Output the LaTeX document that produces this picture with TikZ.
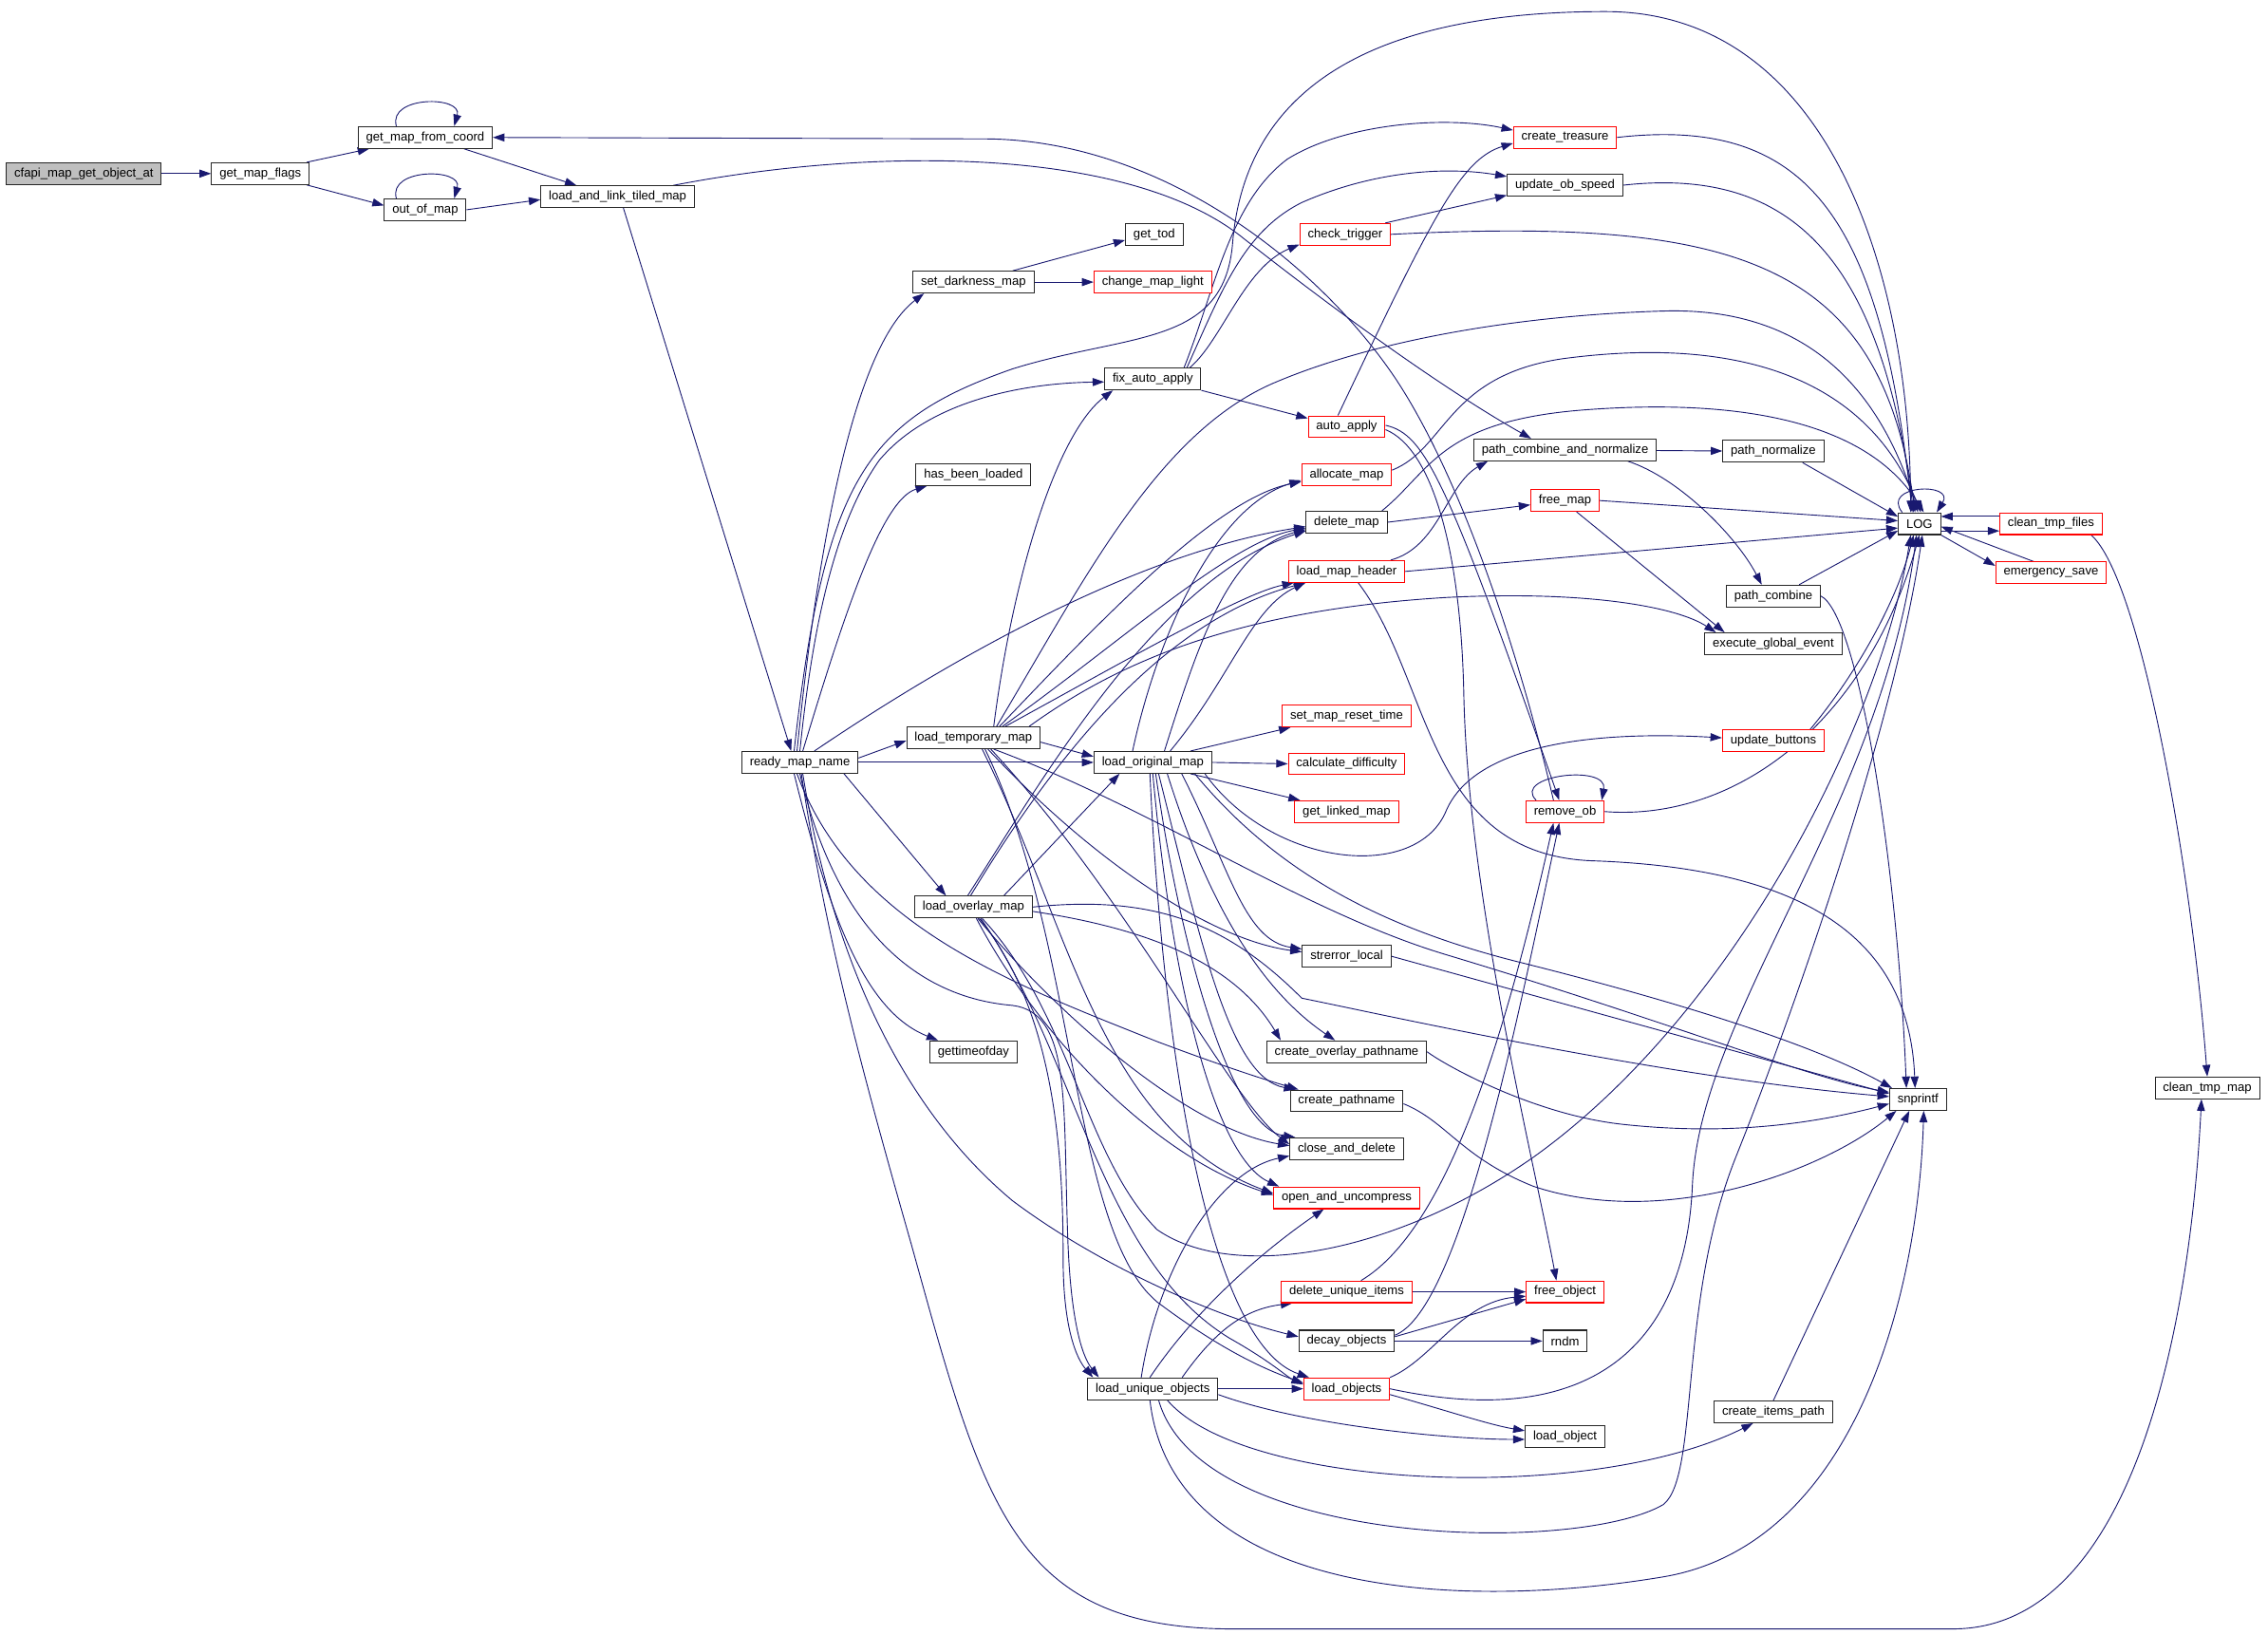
\documentclass[tikz,border=0pt]{standalone}
\usepackage{fontspec}
\setmainfont{Liberation Sans}
\usetikzlibrary{arrows.meta}

\definecolor{callblue}{RGB}{25,25,112}
\definecolor{rootgray}{RGB}{191,191,191}
\pgfdeclarelayer{edges}
\pgfsetlayers{edges,main}

\tikzset{
  fn/.style={rectangle, draw=black!85, fill=white, line width=0.7pt,
    minimum height=15pt, inner xsep=5.5pt, inner ysep=0pt,
    font=\fontsize{8.6}{10}\selectfont},
  trunc/.style={fn, draw=red},
  root/.style={fn, fill=rootgray},
  call/.style={draw=callblue, line width=0.6pt, -{Triangle[length=8pt,width=5.5pt]}},
}

\begin{document}
\begin{tikzpicture}[x=1pt, y=-1pt]
    \useasboundingbox (0,0) rectangle (1568,1130);

    % Nodes
    \node (cfapi) [root] at (58,120) {cfapi\_map\_get\_object\_at};
    \node (gmflags) [fn] at (180,120) {get\_map\_flags};
    \node (gmfc) [fn] at (294,95) {get\_map\_from\_coord};
    \node (oom) [fn] at (294,145) {out\_of\_map};
    \node (lalt) [fn] at (427,136) {load\_and\_link\_tiled\_map};
    \node (rmn) [fn] at (553,527) {ready\_map\_name};

    \node (sdm) [fn] at (673,195) {set\_darkness\_map};
    \node (hbl) [fn] at (673,328) {has\_been\_loaded};
    \node (ltm) [fn] at (673,510) {load\_temporary\_map};
    \node (lovm) [fn] at (673,627) {load\_overlay\_map};
    \node (gtod) [fn] at (673,727) {gettimeofday};

    \node (gettod) [fn] at (798,162) {get\_tod};
    \node (cml) [trunc] at (797,195) {change\_map\_light};
    \node (fap) [fn] at (797,262) {fix\_auto\_apply};
    \node (lom) [fn] at (797,527) {load\_original\_map};
    \node (luo) [fn] at (797,960) {load\_unique\_objects};

    \node (ctrig) [trunc] at (930,162) {check\_trigger};
    \node (aap) [trunc] at (931,295) {auto\_apply};
    \node (amap) [trunc] at (931,328) {allocate\_map};
    \node (dmap) [fn] at (931,361) {delete\_map};
    \node (lmh) [trunc] at (931,395) {load\_map\_header};
    \node (smrt) [trunc] at (931,495) {set\_map\_reset\_time};
    \node (cdiff) [trunc] at (931,528) {calculate\_difficulty};
    \node (glm) [trunc] at (931,561) {get\_linked\_map};
    \node (sel) [fn] at (931,661) {strerror\_local};
    \node (cop) [fn] at (931,727) {create\_overlay\_pathname};
    \node (cpn) [fn] at (931,761) {create\_pathname};
    \node (cad) [fn] at (931,794) {close\_and\_delete};
    \node (oau) [trunc] at (931,828) {open\_and\_uncompress};
    \node (dui) [trunc] at (931,893) {delete\_unique\_items};
    \node (dobj) [fn] at (931,927) {decay\_objects};
    \node (lobjs) [trunc] at (931,960) {load\_objects};

    \node (ctreas) [trunc] at (1082,95) {create\_treasure};
    \node (uos) [fn] at (1082,128) {update\_ob\_speed};
    \node (pcn) [fn] at (1082,311) {path\_combine\_and\_normalize};
    \node (fmap) [trunc] at (1082,346) {free\_map};
    \node (rob) [trunc] at (1082,561) {remove\_ob};
    \node (fobj) [trunc] at (1082,893) {free\_object};
    \node (rndm) [fn] at (1082,927) {rndm};
    \node (lobj) [fn] at (1082,993) {load\_object};

    \node (pnorm) [fn] at (1226,312) {path\_normalize};
    \node (pcomb) [fn] at (1226,412) {path\_combine};
    \node (ege) [fn] at (1226,445) {execute\_global\_event};
    \node (ubut) [trunc] at (1226,512) {update\_buttons};
    \node (cip) [fn] at (1226,976) {create\_items\_path};

    \node (logfn) [fn] at (1327,362) {LOG};
    \node (snp) [fn] at (1326,760) {snprintf};
    \node (ctf) [trunc] at (1418,362) {clean\_tmp\_files};
    \node (esave) [trunc] at (1418,396) {emergency\_save};
    \node (ctm) [fn] at (1526,752) {clean\_tmp\_map};

    % Arrows
    \begin{pgfonlayer}{edges}
    % top chain
    \draw[call] (cfapi) -- (gmflags);
    \draw[call] ([xshift=-2pt]gmflags.north east) -- ([xshift=8pt]gmfc.south west);
    \draw[call] ([xshift=-2pt]gmflags.south east) -- ([yshift=3pt]oom.west);
    \draw[call] ([xshift=-20pt]gmfc.north) .. controls (268,66) and (320,66) .. ([xshift=20pt]gmfc.north);
    \draw[call] ([xshift=-20pt]oom.north) .. controls (268,116) and (320,116) .. ([xshift=20pt]oom.north);
    \draw[call] ([xshift=-20pt]gmfc.south east) -- ([xshift=25pt]lalt.north west);
    \draw[call] (oom.east) -- ([yshift=-2pt]lalt.west);
    \draw[call] ([xshift=4pt]lalt.south) -- ([xshift=-6pt]rmn.north);
    \draw[call] ([xshift=-15pt]lalt.north east) .. controls (600,102) and (780,100) .. (860,165) .. controls (930,220) and (1000,270) .. ([xshift=40pt]pcn.north west);
    \draw[call] ([xshift=-8pt]rob.north) .. controls (1050,450) and (1010,330) .. (965,262) .. controls (910,180) and (800,96) .. (680,96) -- (gmfc.east);

    % ready_map_name
    \draw[call] ([xshift=-2pt]rmn.north) .. controls (565,380) and (590,240) .. ([xshift=8pt]sdm.south west);
    \draw[call] (rmn.north) .. controls (562,430) and (578,360) .. (608,318) .. controls (640,280) and (700,265) .. ([yshift=-2pt]fap.west);
    \draw[call] ([xshift=2pt]rmn.north) .. controls (585,420) and (610,345) .. ([xshift=8pt]hbl.south west);
    \draw[call] ([xshift=-4pt]rmn.north) .. controls (570,330) and (600,290) .. (700,255) .. controls (780,230) and (845,240) .. (852,170) .. controls (860,60) and (950,8) .. (1110,8) .. controls (1260,8) and (1320,180) .. ([xshift=-6pt]logfn.north);
    \draw[call] ([xshift=10pt]rmn.north) .. controls (680,440) and (800,380) .. ([yshift=-3pt]dmap.west);
    \draw[call] ([yshift=3pt]rmn.east) -- ([yshift=-2pt]ltm.west);
    \draw[call] (rmn.east) -- (lom.west);
    \draw[call] ([xshift=-10pt]rmn.south east) -- ([xshift=22pt]lovm.north west);
    \draw[call] ([xshift=-4pt]rmn.south) .. controls (575,640) and (600,700) .. ([xshift=6pt]gtod.north west);
    \draw[call] ([xshift=-2pt]rmn.south) .. controls (590,640) and (700,680) .. (800,720) .. controls (840,735) and (870,745) .. ([xshift=6pt]cpn.north west);
    \draw[call] (rmn.south) .. controls (580,650) and (640,690) .. (700,695) .. controls (740,700) and (735,760) .. (738,850) .. controls (740,920) and (750,940) .. ([xshift=8pt]luo.north west);
    \draw[call] ([xshift=2pt]rmn.south) .. controls (580,690) and (640,780) .. (700,830) .. controls (760,875) and (840,910) .. ([yshift=3pt]dobj.west);
    \draw[call] ([xshift=1pt]rmn.south) .. controls (570,640) and (590,720) .. (630,860) .. controls (680,1040) and (700,1125) .. (850,1126) -- (1350,1126) .. controls (1480,1126) and (1515,900) .. ([xshift=-4pt]ctm.south);

    % load_temporary_map
    \draw[call] ([xshift=14pt]ltm.north) .. controls (700,400) and (730,300) .. ([xshift=6pt]fap.south west);
    \draw[call] ([xshift=16pt]ltm.north) .. controls (750,400) and (800,300) .. (880,265) .. controls (950,235) and (1050,218) .. (1150,215) .. controls (1250,212) and (1300,270) .. ([xshift=-1pt]logfn.north);
    \draw[call] ([xshift=18pt]ltm.north) .. controls (760,430) and (840,345) .. ([yshift=-5pt]amap.west);
    \draw[call] ([xshift=20pt]ltm.north) .. controls (780,440) and (850,375) .. ([yshift=-4pt]dmap.west);
    \draw[call] ([xshift=22pt]ltm.north) .. controls (790,450) and (860,410) .. ([xshift=4pt]lmh.south west);
    \draw[call] ([xshift=-8pt]ltm.north east) .. controls (770,460) and (850,422) .. (1000,413) .. controls (1100,408) and (1160,420) .. ([xshift=8pt]ege.north west);
    \draw[call] ([yshift=-3pt]ltm.east) -- ([yshift=4pt]lom.west);
    \draw[call] ([xshift=10pt]ltm.south) .. controls (760,600) and (840,650) .. ([yshift=3pt]sel.west);
    \draw[call] ([xshift=12pt]ltm.south) .. controls (780,620) and (850,760) .. ([yshift=3pt]cad.west);
    \draw[call] ([xshift=6pt]ltm.south) .. controls (740,640) and (760,780) .. ([yshift=3pt]oau.west);
    \draw[call] ([xshift=8pt]ltm.south) .. controls (745,650) and (740,850) .. (800,900) .. controls (840,930) and (870,945) .. ([yshift=4pt]lobjs.west);
    \draw[call] ([xshift=14pt]ltm.south) .. controls (800,560) and (900,630) .. (1000,660) .. controls (1150,705) and (1250,745) .. ([yshift=5pt]snp.west);

    % load_original_map
    \draw[call] ([xshift=-15pt]lom.north east) -- ([xshift=6pt]smrt.south west);
    \draw[call] (lom.east) -- (cdiff.west);
    \draw[call] ([xshift=-15pt]lom.south east) -- ([xshift=4pt]glm.north west);
    \draw[call] ([xshift=-14pt]lom.north) .. controls (800,440) and (840,350) .. ([yshift=-4pt]amap.west);
    \draw[call] ([xshift=8pt]lom.north) .. controls (830,440) and (850,380) .. ([yshift=-5pt]dmap.west);
    \draw[call] ([xshift=12pt]lom.north) .. controls (850,470) and (865,420) .. ([xshift=12pt]lmh.south west);
    \draw[call] ([xshift=-5pt]lom.south east) .. controls (880,600) and (980,610) .. (1000,560) .. controls (1020,515) and (1100,505) .. ([yshift=2pt]ubut.west);
    \draw[call] ([xshift=20pt]lom.south) .. controls (850,600) and (860,650) .. ([yshift=5pt]sel.west);
    \draw[call] ([xshift=10pt]lom.south) .. controls (840,640) and (880,690) .. ([xshift=-8pt]cop.north);
    \draw[call] ([xshift=4pt]lom.south) .. controls (830,650) and (850,745) .. ([xshift=4pt]cpn.north west);
    \draw[call] ([xshift=2pt]lom.south) .. controls (815,650) and (850,780) .. ([xshift=4pt]cad.north west);
    \draw[call] (lom.south) .. controls (810,680) and (840,800) .. ([xshift=4pt]oau.north west);
    \draw[call] ([xshift=-2pt]lom.south) .. controls (805,750) and (840,930) .. ([xshift=4pt]lobjs.north west);
    \draw[call] ([xshift=-12pt]lom.south east) .. controls (880,600) and (950,640) .. (1050,665) .. controls (1150,690) and (1250,720) .. ([xshift=2pt]snp.north west);

    % load_overlay_map
    \draw[call] ([xshift=-20pt]lovm.north east) -- ([xshift=18pt]lom.south west);
    \draw[call] ([xshift=-4pt]lovm.north) .. controls (720,540) and (800,400) .. ([yshift=-6pt]dmap.west);
    \draw[call] ([xshift=-2pt]lovm.north) .. controls (725,530) and (800,430) .. ([xshift=12pt]lmh.south west);
    \draw[call] ([yshift=-3pt]lovm.east) .. controls (780,640) and (850,660) .. ([xshift=10pt]cop.north west);
    \draw[call] (lovm.east) .. controls (800,618) and (850,640) .. (900,690) .. controls (950,700) and (1150,745) .. ([yshift=2pt]snp.west);
    \draw[call] ([xshift=4pt]lovm.south) .. controls (730,700) and (735,800) .. (735,870) .. controls (735,920) and (745,940) .. ([xshift=4pt]luo.north west);
    \draw[call] ([xshift=6pt]lovm.south) .. controls (740,700) and (750,800) .. (800,850) .. controls (850,885) and (960,870) .. (1060,800) .. controls (1200,700) and (1300,500) .. ([xshift=-6pt]logfn.south);
    \draw[call] ([xshift=2pt]lovm.south) .. controls (720,720) and (800,800) .. ([yshift=2pt]oau.west);
    \draw[call] ([xshift=3pt]lovm.south) .. controls (730,700) and (820,780) .. ([yshift=2pt]cad.west);
    \draw[call] ([xshift=5pt]lovm.south) .. controls (745,730) and (760,870) .. (850,925) .. controls (880,942) and (890,952) .. ([yshift=3pt]lobjs.west);

    % load_unique_objects
    \draw[call] (luo) -- (lobjs);
    \draw[call] ([xshift=-25pt]luo.north east) .. controls (840,920) and (860,905) .. ([xshift=8pt]dui.south west);
    \draw[call] ([xshift=-8pt]luo.north) .. controls (800,880) and (840,810) .. ([yshift=-5pt]cad.west);
    \draw[call] ([xshift=-2pt]luo.north) .. controls (830,900) and (880,860) .. ([xshift=35pt]oau.south west);
    \draw[call] ([yshift=-4pt]luo.east) .. controls (900,985) and (1000,995) .. ([yshift=-2pt]lobj.west);
    \draw[call] ([xshift=10pt]luo.south) .. controls (860,1030) and (1100,1040) .. ([xshift=-14pt]cip.south);
    \draw[call] ([xshift=4pt]luo.south) .. controls (830,1070) and (1090,1075) .. (1150,1040) .. controls (1175,1020) and (1160,900) .. (1200,800) .. controls (1240,700) and (1310,500) .. ([xshift=2pt]logfn.south);
    \draw[call] ([xshift=-2pt]luo.south) .. controls (810,1100) and (1000,1115) .. (1150,1090) .. controls (1280,1068) and (1326,900) .. ([xshift=4pt]snp.south);

    % load_objects, decay_objects, delete_unique_items
    \draw[call] (lobjs.north east) .. controls (990,940) and (1010,900) .. ([yshift=-3pt]fobj.west);
    \draw[call] ([yshift=-4pt]lobjs.east) .. controls (1000,975) and (1030,985) .. ([yshift=4pt]lobj.west);
    \draw[call] (lobjs.east) .. controls (1100,990) and (1165,930) .. (1170,820) .. controls (1175,700) and (1300,560) .. ([xshift=-2pt]logfn.south);
    \draw[call] ([yshift=4pt]dobj.east) .. controls (1010,905) and (1050,700) .. ([xshift=-4pt]rob.south);
    \draw[call] ([yshift=3pt]dobj.east) -- ([yshift=-5pt]fobj.west);
    \draw[call] (dobj) -- (rndm);
    \draw[call] (dui) -- (fobj);
    \draw[call] ([xshift=10pt]dui.north) .. controls (1000,850) and (1040,720) .. ([xshift=-8pt]rob.south);

    % snprintf callers
    \draw[call] (cip.north) -- ([xshift=-6pt]snp.south);
    \draw[call] (sel.east) -- ([yshift=4pt]snp.west);
    \draw[call] (cop.east) .. controls (1000,737) and (1060,770) .. (1120,777) .. controls (1200,786) and (1260,775) .. ([yshift=-3pt]snp.west);
    \draw[call] ([yshift=-2pt]cpn.east) .. controls (1000,775) and (1010,800) .. (1060,820) .. controls (1150,850) and (1260,810) .. ([xshift=5pt]snp.south west);

    % load_map_header, delete_map, allocate_map, free_map
    \draw[call] ([xshift=-10pt]lmh.north east) .. controls (995,378) and (1000,335) .. ([xshift=10pt]pcn.south west);
    \draw[call] (lmh.east) -- ([yshift=-3pt]logfn.west);
    \draw[call] ([xshift=8pt]lmh.south) .. controls (990,470) and (985,590) .. (1100,595) .. controls (1250,600) and (1320,650) .. ([xshift=-2pt]snp.north);
    \draw[call] (dmap.east) -- ([yshift=-3pt]fmap.west);
    \draw[call] ([xshift=-4pt]dmap.north east) .. controls (990,325) and (995,290) .. (1100,283) .. controls (1200,276) and (1290,290) .. ([xshift=3pt]logfn.north);
    \draw[call] ([yshift=3pt]amap.east) .. controls (1000,310) and (1000,260) .. (1080,248) .. controls (1200,232) and (1290,260) .. ([xshift=1pt]logfn.north);
    \draw[call] (fmap.east) -- ([yshift=2pt]logfn.west);
    \draw[call] ([xshift=8pt]fmap.south) -- ([xshift=14pt]ege.north west);

    % path_combine_and_normalize
    \draw[call] (pcn) -- (pnorm);
    \draw[call] ([xshift=-20pt]pcn.south east) .. controls (1160,330) and (1200,370) .. ([xshift=-8pt]pcomb.north);
    \draw[call] ([xshift=-15pt]pnorm.south east) -- ([yshift=-3pt]logfn.north west);
    \draw[call] ([xshift=-15pt]pcomb.north east) -- ([yshift=3pt]logfn.south west);
    \draw[call] (pcomb.east) .. controls (1285,425) and (1312,600) .. ([xshift=-8pt]snp.north);

    % LOG and the right side
    \draw[call] ([xshift=3pt]logfn.north west) .. controls (1300,335) and (1352,333) .. ([xshift=-3pt]logfn.north east);
    \draw[call] ([yshift=-5pt]logfn.east) -- ([yshift=-5pt]ctf.west);
    \draw[call] ([yshift=5pt]ctf.west) -- ([yshift=5pt]logfn.east);
    \draw[call] (logfn.south east) -- ([yshift=-3pt]esave.north west);
    \draw[call] ([xshift=-12pt]esave.north) -- ([yshift=-2pt]logfn.east);
    \draw[call] ([xshift=-8pt]ctf.south east) .. controls (1480,400) and (1515,600) .. (ctm.north);

    % update_buttons, remove_ob
    \draw[call] ([xshift=-10pt]ubut.north east) .. controls (1280,470) and (1310,420) .. ([xshift=-4pt]logfn.south);
    \draw[call] (rob.east) .. controls (1200,568) and (1290,500) .. (logfn.south);
    \draw[call] ([xshift=-20pt]rob.north) .. controls (1045,536) and (1112,528) .. ([xshift=-2pt]rob.north east);

    % set_darkness_map
    \draw[call] ([xshift=-15pt]sdm.north east) -- ([yshift=-4pt]gettod.west);
    \draw[call] (sdm) -- (cml);

    % fix_auto_apply
    \draw[call] (fap.south east) -- ([yshift=-2pt]aap.north west);
    \draw[call] ([xshift=-8pt]fap.north east) .. controls (845,235) and (860,185) .. ([yshift=-7pt]ctrig.west);
    \draw[call] ([xshift=-12pt]fap.north east) .. controls (840,200) and (850,140) .. (890,110) .. controls (930,85) and (1000,80) .. ([yshift=5pt]ctreas.west);
    \draw[call] ([xshift=-10pt]fap.north east) .. controls (845,200) and (860,160) .. (900,140) .. controls (950,118) and (1000,115) .. ([yshift=6pt]uos.west);

    % check_trigger, create_treasure, update_ob_speed
    \draw[call] ([xshift=-4pt]ctrig.north east) -- ([yshift=-7pt]uos.west);
    \draw[call] (ctrig.east) .. controls (1200,150) and (1300,180) .. ([xshift=-3pt]logfn.north);
    \draw[call] (ctreas.east) .. controls (1250,80) and (1300,150) .. ([xshift=-5pt]logfn.north);
    \draw[call] (uos.east) .. controls (1240,115) and (1300,180) .. ([xshift=-4pt]logfn.north);

    % auto_apply
    \draw[call] ([xshift=-6pt]aap.north) .. controls (990,150) and (1010,110) .. ([yshift=-4pt]ctreas.west);
    \draw[call] ([yshift=1pt]aap.east) .. controls (985,300) and (1000,330) .. ([xshift=-4pt]rob.north);
    \draw[call] ([yshift=-2pt]aap.east) .. controls (990,310) and (1010,380) .. (1012,480) .. controls (1015,620) and (1060,800) .. ([xshift=-6pt]fobj.north);
    \end{pgfonlayer}
\end{tikzpicture}
\end{document}
